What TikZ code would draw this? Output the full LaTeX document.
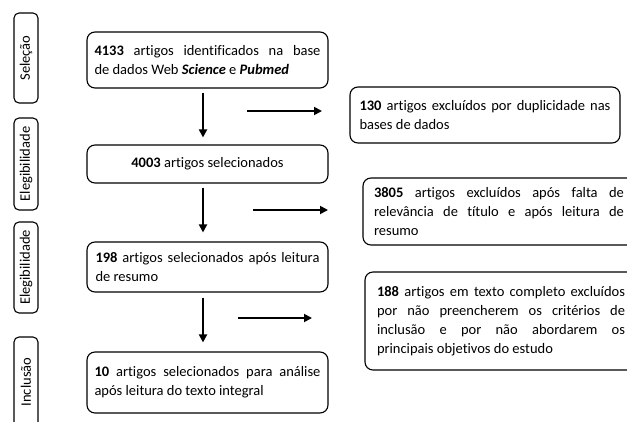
\documentclass[tikz,border=0pt]{standalone}
\usepackage{fontspec}
\setmainfont{Carlito}[RawFeature=-liga]
\usetikzlibrary{arrows.meta}
\hyphenpenalty=10000
\exhyphenpenalty=10000

\begin{document}
\begin{tikzpicture}[x=1pt,y=-1pt,
    caixa/.style={draw, rounded corners=8pt, line width=1.1pt, inner sep=0pt,
      align=justify, font=\fontsize{14.5}{19}\selectfont},
    fase/.style={draw, rounded corners=5pt, line width=1.1pt, rotate=90,
      minimum height=24pt, inner sep=0pt, font=\fontsize{14.5}{19}\selectfont},
    seta/.style={line width=1.8pt, -{Triangle[length=8pt,width=8pt]}}]
   	\useasboundingbox (0,0) rectangle (627,421);
   	\clip (0,0) rectangle (627,421);

	%Fases a esquerda
   	\node[fase, minimum width=90pt] (sel) at (26,58) {Seleção};
   	\node[fase, minimum width=92pt] (eleg1) at (26,164) {Elegibilidade};
   	\node[fase, minimum width=91pt] (eleg2) at (26,267.5) {Elegibilidade};
   	\node[fase, minimum width=90pt] (incl) at (26,382) {Inclusão};

	%Caixas centrais
   	\node[caixa, minimum width=241pt, minimum height=56pt, text width=226pt]
   	  (ident) at (207.5,60)
   	  {\textbf{4133} artigos identificados na base\linebreak de dados Web \textbf{\textit{Science}} e \textbf{\textit{Pubmed}}};
   	\node[caixa, minimum width=241pt, minimum height=38pt, align=center]
   	  (selec) at (207.5,164) {\textbf{4003} artigos selecionados};
   	\node[caixa, minimum width=241pt, minimum height=50pt, text width=224pt]
   	  (resumo) at (207.5,267) {\textbf{198} artigos selecionados após leitura\linebreak de resumo};
   	\node[caixa, minimum width=241pt, minimum height=61pt, text width=226pt]
   	  (integ) at (207.5,382.5) {\textbf{10} artigos selecionados para análise\linebreak após leitura do texto integral};

	%Caixas de exclusao
   	\node[caixa, minimum width=270pt, minimum height=56pt, text width=251pt]
   	  (excl1) at (485,115) {\textbf{130} artigos excluídos por duplicidade nas\linebreak bases de dados};
   	\node[caixa, minimum width=272pt, minimum height=67pt, text width=250pt]
   	  (excl2) at (499,211.5) {\textbf{3805} artigos excluídos após falta de\linebreak relevância de título e após leitura de\linebreak resumo};
   	\node[caixa, minimum width=272pt, minimum height=98pt, text width=248pt]
   	  (excl3) at (501,321) {\textbf{188} artigos em texto completo excluídos\linebreak por não preencherem os critérios de\linebreak inclusão e por não abordarem os\linebreak principais objetivos do estudo};

	%Setas verticais
   	\draw[seta, shorten <=4pt, shorten >=7pt] ([xshift=-4.5pt]ident.south) -- ([xshift=-4.5pt]selec.north);
   	\draw[seta, shorten <=4pt, shorten >=9pt] ([xshift=-4.5pt]selec.south) -- ([xshift=-4.5pt]resumo.north);
   	\draw[seta, shorten <=5pt, shorten >=9pt] ([xshift=-4.5pt]resumo.south) -- ([xshift=-4.5pt]integ.north);

	%Setas horizontais
   	\coordinate (h1a) at (247,111);
   	\coordinate (h1b) at (322,111);
   	\coordinate (h2a) at (253,210);
   	\coordinate (h2b) at (328,210);
   	\coordinate (h3a) at (238,318);
   	\coordinate (h3b) at (312,318);
   	\draw[seta] (h1a) -- (h1b);
   	\draw[seta] (h2a) -- (h2b);
   	\draw[seta] (h3a) -- (h3b);
\end{tikzpicture}
\end{document}
